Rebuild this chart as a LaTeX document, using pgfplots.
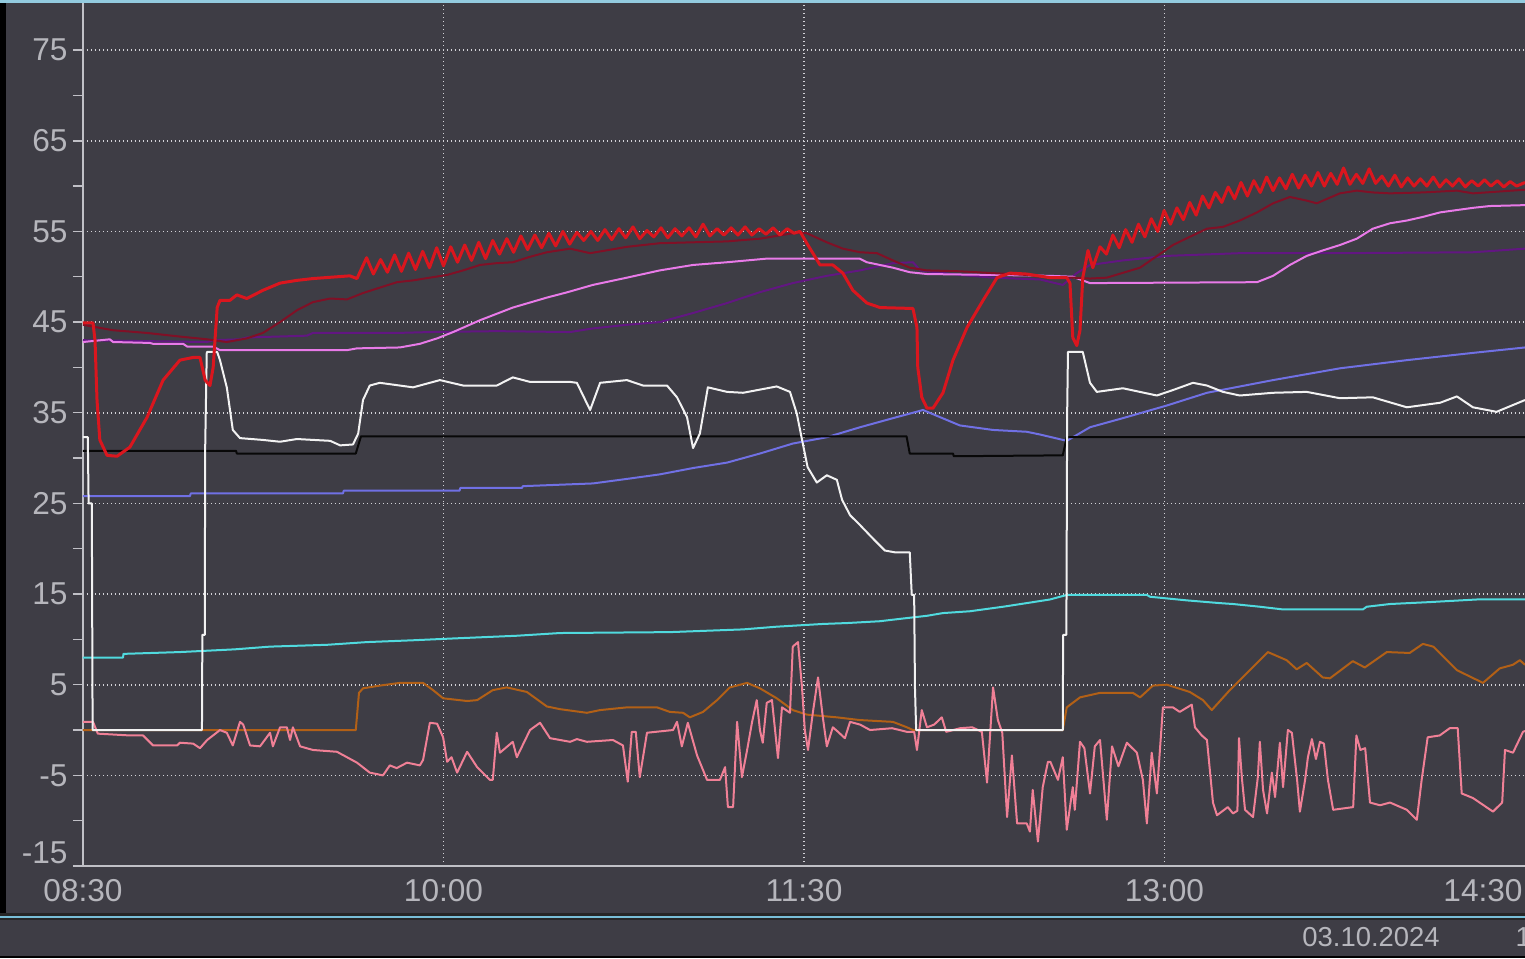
\documentclass[border=0pt]{standalone}
\usepackage{pgfplots}
\pgfplotsset{compat=1.18}
\usepackage{fontspec}
\setmainfont{Liberation Sans}

\definecolor{bg}{RGB}{62,61,69}
\definecolor{txt}{RGB}{182,182,188}
\definecolor{axl}{RGB}{192,192,198}
\definecolor{gridc}{RGB}{210,210,215}
\definecolor{edge}{RGB}{120,190,215}
\definecolor{cRed}{RGB}{218,22,30}
\definecolor{cDark}{RGB}{128,16,38}
\definecolor{cViolet}{RGB}{232,122,232}
\definecolor{cPurple}{RGB}{98,22,130}
\definecolor{cWhite}{RGB}{242,242,242}
\definecolor{cBlack}{RGB}{8,8,8}
\definecolor{cBlue}{RGB}{112,112,228}
\definecolor{cCyan}{RGB}{80,218,222}
\definecolor{cOrange}{RGB}{178,96,22}
\definecolor{cPink}{RGB}{240,128,150}

\begin{document}
\begin{tikzpicture}
\path[use as bounding box] (0,0) rectangle (152.5mm,95.8mm);
\clip (0,0) rectangle (152.5mm,95.8mm);
\fill[bg] (0,0) rectangle (152.5mm,95.8mm);

\begin{axis}[
  at={(8.3mm,9.2mm)}, anchor=south west, scale only axis,
  width=144.2mm, height=86.3mm,
  xmin=0, xmax=360, ymin=-15, ymax=80.2,
  axis x line*=bottom, axis y line*=left,
  axis line style={-, draw=axl, line width=0.2mm},
  xtick={0,90,180,270}, xticklabels={08:30,10:00,11:30,13:00},
  xticklabel style={yshift=0.9mm},
  extra x ticks={360}, extra x tick labels={14:30},
  extra x tick style={grid=none, xticklabel style={anchor=north east, xshift=1.0mm}},
  ytick={-5,5,...,75}, minor ytick={-10,0,...,70},
  yticklabel style={xshift=0.7mm},
  extra y ticks={-15}, extra y tick style={grid=none, yticklabel style={yshift=1.3mm}},
  grid=major,
  major grid style={draw=gridc, line width=0.17mm, dash pattern=on 0.14mm off 0.26mm},
  tick align=outside, major tick length=1mm, minor tick length=1mm,
  xtick style={draw=none},
  ytick style={draw=axl, line width=0.15mm},
  tick label style={font=\fontsize{9}{10}\selectfont, text=txt},
  /pgf/number format/assume math mode=true,
  no markers,
  every axis plot/.append style={line join=round, line width=0.2mm},
]

% cyan
\addplot[cCyan] coordinates {
(0,8.0) (10,8.0) (10.1,8.4) (24.2,8.6) (37.9,8.9) (46.7,9.2) (60.9,9.4) (70.9,9.7)
(82.4,9.9) (92.4,10.1) (108.3,10.4) (119.1,10.7) (146.5,10.8) (164.8,11.1) (173.2,11.4)
(184.7,11.7) (190.7,11.8) (198.9,12.0) (204.7,12.3) (210.7,12.6) (214.7,12.9) (221.4,13.1)
(229.7,13.6) (235.6,14.0) (241.4,14.4) (245.6,14.9) (265.6,14.9) (266.4,14.7) (275.6,14.3)
(283.8,14.0) (287.1,13.9) (293.8,13.6) (299.6,13.3) (319.5,13.3) (320.5,13.6) (326.3,13.9)
(335.7,14.1) (348,14.4) (360,14.4)};

% orange
\addplot[cOrange] coordinates {
(0,0) (68.1,0) (68.9,4.1) (69.9,4.6) (74.1,4.9) (79.1,5.2) (84.9,5.2) (87.4,4.4) (89.9,3.5)
(95.9,3.2) (98.4,3.3) (102.3,4.4) (105.8,4.7) (110.8,4.2) (115.8,2.6) (119.1,2.3) (125.8,1.9)
(129.1,2.2) (135.8,2.5) (143.3,2.5) (146.5,2.0) (149.8,1.9) (151.5,1.4) (154.8,2.0) (158.3,3.3)
(161.5,4.7) (165.8,5.2) (169,4.6) (173.2,3.5) (177.2,2.2) (180.7,1.7) (188.2,1.4) (193.9,1.1)
(202.2,0.9) (205.7,0.3) (207.2,0) (244.6,0) (245.6,2.5) (248.9,3.6) (253.9,4.1) (262.1,4.1)
(263.9,3.6) (267.1,4.9) (270.6,5.0) (276.3,4.2) (279.6,3.3) (281.8,2.2) (286.3,4.4) (290.6,6.3)
(295.8,8.6) (300.5,7.7) (303,6.7) (305.5,7.4) (309.5,5.8) (311.3,5.7) (317,7.6) (320,6.9)
(325.5,8.6) (331.2,8.5) (334.5,9.5) (337.1,9.2) (343,6.6) (349.5,5.2) (353.7,6.8) (357,7.2)
(358.7,7.7) (360,7.2)};

% pink
\addplot[cPink] coordinates {
(0,0.9) (2.5,0.9) (3.7,-0.4) (11.7,-0.6) (15,-0.6) (17.5,-1.7) (23.5,-1.7) (24.2,-1.4)
(27.5,-1.5) (29.2,-2.0) (31,-1.1) (34.2,0) (35.9,-0.3) (37.4,-1.7) (39.2,0.9) (40,0.6)
(41.7,-1.7) (44.2,-1.8) (46.7,-0.3) (47.4,-1.8) (49.2,0.3) (50.9,0.3) (51.7,-1.1) (52.4,0.3)
(54.2,-1.8) (57.4,-2.2) (63.4,-2.4) (68.4,-3.6) (71.6,-4.7) (74.9,-5.0) (76.6,-3.9) (78.3,-4.2)
(80.9,-3.6) (84.1,-3.9) (84.9,-3.3) (86.6,0.8) (88.4,0.7) (89.9,-0.8) (90.9,-3.5) (92,-3.0)
(93.4,-4.7) (95.9,-2.4) (98.4,-4.1) (101.6,-5.5) (102.3,-5.5) (103.3,-0.3) (104.1,-2.5)
(107.3,-1.3) (108.3,-3.0) (111.6,0) (114.1,0.8) (116.6,-0.9) (121.6,-1.3)
(123.3,-1.0) (125.8,-1.3) (132.3,-1.1) (134.8,-1.7) (136,-5.7) (137,-0.2) (138,-0.2) (139,-5.2)
(140.8,-0.3) (147.3,0) (148.3,0.9) (149.5,-1.8) (151,0.8) (153.3,-2.8) (155.8,-5.5) (159,-5.5)
(160.3,-4.1) (161,-8.5) (162.3,-8.5) (163.3,0.9) (164.5,-5.2) (165.8,-2.2) (167,0.8) (168.2,3.3)
(169,0) (169.7,-1.4) (170.7,3.0) (172,3.3) (173.5,-3.1) (174.5,2.5) (176.5,1.9) (177.2,9.2)
(178.5,9.7) (179.5,4.7) (180.2,0) (181,-2.2) (182.2,1.9) (183.5,5.8) (184.7,1.4) (185.7,-1.8)
(187.2,0.3) (188.5,-0.2) (190.2,-0.9) (191.5,0.9) (194,0.6) (196.5,0) (202,0.2) (205.7,-0.2)
(207.5,-0.2) (208.2,-2.2) (209.4,2.2) (210.7,0.3) (212.5,0.6) (214.4,1.4) (215.5,-0.2) (219,0.2)
(222,0.3) (224.4,-0.2) (225.7,-5.8) (227.2,4.7) (228.4,1.1) (229.5,-0.3) (230.7,-9.6)
(231.9,-2.8) (233.2,-10.3) (235.6,-10.3) (236.4,-11.2) (237.1,-6.6) (238.4,-12.3) (239.6,-6.3)
(240.9,-3.5) (241.5,-3.5) (243.4,-5.5) (244.6,-3.0) (245.6,-11.0) (247.1,-6.3) (247.6,-8.8)
(248.9,-1.3) (250,-2.0) (251.4,-7.0) (252.6,-1.8) (253.9,-1.1) (255.6,-9.9) (256.9,-1.8)
(258.5,-4.0) (260.6,-1.4) (263.1,-2.5) (264.6,-5.5) (265.6,-10.3) (266.8,-2.5) (268.1,-7.0)
(269.6,2.5) (272.1,2.5) (273.8,2.0) (276.8,2.8) (277.6,0.3) (279.3,-0.6) (280.6,-1.1)
(282.1,-8.0) (283.1,-9.4) (285.8,-8.5) (287.1,-9.2) (288.2,-8.9) (288.6,-0.9) (289.3,-5.2)
(290.1,-8.8) (292.1,-9.6) (293.3,-5.2) (293.8,-1.3) (294.6,-6.6) (295.6,-9.2) (296.8,-4.7)
(297.6,-7.4) (298.8,-1.4) (299.6,-6.3) (300.8,0) (301.8,-0.3) (303.1,-5.5) (303.8,-9.0)
(305.1,-5.5) (305.8,-3.0) (306.8,-1.0) (307.8,-3.2) (308.8,-1.3) (309.8,-1.5) (310.8,-5.5)
(312.1,-8.8) (317.1,-8.5) (317.9,-0.6) (318.9,-2.2) (320.1,-2.0) (321.3,-8.0) (323.8,-8.3)
(326.3,-8.0) (330.5,-8.8) (333,-9.9) (334.2,-5.5) (335.7,-0.8) (338.7,-0.6)
(341.2,0.2) (343.2,0.2) (344.2,-7.0) (347,-7.5) (352,-9.0) (354.3,-8.0) (355,-2.2) (357,-2.5)
(359.5,-0.2) (360,-0.1)};

% blue
\addplot[cBlue] coordinates {
(0,25.8) (26.7,25.8) (26.9,26.1) (64.9,26.1) (65.1,26.4) (94,26.4) (94.2,26.7) (109.6,26.7)
(109.8,26.9) (127.3,27.2) (135.8,27.7) (144,28.2) (152.3,28.9) (160.8,29.5) (169,30.5)
(177.2,31.6) (185.7,32.3) (194,33.4) (202.2,34.4) (209.7,35.3) (218.9,33.6) (227.2,33.1)
(235.6,32.9) (238.9,32.6) (245.6,31.9) (251.4,33.4) (259.6,34.4) (270.6,35.8) (280.6,37.2)
(297.1,38.6) (313.8,39.9) (330.5,40.8) (347,41.6) (360,42.2)};

% black
\addplot[cBlack] coordinates {
(0,30.8) (38.2,30.8) (38.4,30.5) (68.1,30.5) (69.4,32.4) (205.6,32.4) (206.4,30.5) (217.2,30.5)
(217.4,30.2) (244.6,30.3) (245.6,32.3) (360,32.3)};

% white
\addplot[cWhite] coordinates {
(0,32.3) (1.2,32.3) (1.4,25.0) (2.2,25.0) (2.4,0) (29.7,0) (29.8,10.5) (30.4,10.5) (30.5,31.0)
(30.9,41.7) (33.5,41.7) (34.2,40.8) (35.9,37.8) (37.4,33.1) (39.2,32.2) (44.9,32.0) (49.2,31.8)
(53.4,32.1) (61.7,31.9) (64.2,31.4) (67.4,31.5) (68.7,32.7) (69.9,36.4) (71.6,38.0) (74.1,38.3)
(82.4,37.8) (89.1,38.6) (94.9,38.0) (103.3,38.0) (107.3,38.9) (111.6,38.4) (121.6,38.4)
(123.3,38.3) (126.6,35.3) (129.1,38.3) (135.8,38.6) (139.8,38.0) (145.8,38.0) (148.3,36.7)
(150.8,34.5) (152.3,31.1) (154,32.7) (156,37.8) (160.8,37.3) (164.8,37.2) (173.2,37.9)
(176.5,37.3) (178.2,34.9) (179.7,31.6) (180.9,29.0) (183.2,27.3) (185.7,28.1) (188.2,27.6)
(189.5,25.4) (191.5,23.7) (194,22.6) (197.7,20.9) (200.2,19.8) (202.7,19.6) (206.4,19.6)
(206.9,14.9) (207.5,14.9) (207.7,4.7) (208,0) (244.6,0) (244.7,10.5) (245.5,10.5) (245.7,35)
(245.9,41.7) (249.6,41.7) (251.4,38.3) (253.1,37.3) (259.6,37.7) (268.1,36.9) (272.1,37.5)
(277.1,38.3) (280.6,38.0) (284.6,37.3) (288.8,36.9) (297.1,37.2) (305.5,37.3) (313.8,36.6)
(322,36.7) (330.5,35.6) (338.8,36.1) (343,36.8) (347,35.6) (352.9,35.1) (360,36.4)};

% purple
\addplot[cPurple] coordinates {
(0,43.0) (31,42.8) (32.5,43.0) (39.2,43.1) (40.9,43.3) (55.9,43.5) (57.4,43.8) (78.4,43.8)
(86.6,43.9) (103.3,44.0) (121.6,43.9) (127.3,44.3) (135.8,44.7) (144,45.0) (152.3,46.0)
(160.8,47.1) (169,48.3) (177.2,49.3) (185.7,50.1) (194,50.7) (202.2,51.5) (207.2,51.6)
(209,50.7) (218.9,50.2) (227.2,49.9) (238.9,49.7) (244.6,49.1) (248.1,50.4) (251.4,51.3)
(259.6,51.8) (270.6,52.3) (288.8,52.6) (313.8,52.6) (347,52.7) (360,53.1)};

% violet
\addplot[cViolet] coordinates {
(0,42.8) (6.7,43.1) (7.5,42.8) (16.7,42.7) (17.5,42.6) (25,42.6) (26,42.3) (32.5,42.3)
(34.2,41.9) (65.9,41.9) (68.4,42.1) (79.1,42.2) (84.1,42.6) (88.4,43.2) (92.4,43.9) (99.1,45.2)
(107.3,46.6) (115.8,47.7) (121,48.3) (127.3,49.1) (135.8,49.9) (144,50.7) (152.3,51.3)
(160.8,51.6) (170.7,52.0) (193.9,52.0) (195.7,51.6) (202.2,51.0) (206.4,50.5) (210.7,50.3)
(227.2,50.2) (241.4,50.1) (247.1,50.0) (251.4,49.3) (293.1,49.4) (297.1,50.1) (301.3,51.3)
(305.5,52.3) (309.5,52.9) (313.8,53.5) (318,54.2) (322,55.3) (326.3,55.9) (330.5,56.2)
(334.5,56.6) (338.8,57.1) (347,57.6) (351.2,57.8) (360,57.9)};

% dark red
\addplot[cDark] coordinates {
(0,44.7) (7.5,44.1) (16,43.8) (24.2,43.4) (31,43.1) (35.9,42.8) (40.9,43.2) (44.9,43.8)
(49.2,45.0) (53.4,46.3) (57.4,47.2) (61.7,47.6) (65.9,47.5) (69.9,48.2) (74.1,48.8) (78.4,49.4)
(82.4,49.6) (86.6,49.9) (90.9,50.2) (94.9,50.7) (99.1,51.3) (103.3,51.5) (107.3,51.6)
(111.6,52.2) (115.8,52.7) (121.6,53.1) (126.6,52.6) (135.8,53.3) (144,53.7) (152.3,53.8)
(160.8,53.9) (169,54.2) (177.2,54.8) (180.7,54.8) (185.7,53.8) (189.7,53.1) (194,52.7)
(198.2,52.6) (202.2,51.8) (206.4,51.0) (210.7,50.7) (218.9,50.6) (227.2,50.4) (235.6,50.2)
(241.4,49.9) (247.1,49.9) (251.4,49.8) (255.6,49.9) (263.9,51.0) (272.1,53.5) (276.3,54.4)
(280.6,55.3) (284.6,55.5) (288.8,56.2) (293.1,57.1) (297.1,58.1) (301.3,58.8) (305.5,58.4)
(308,58.1) (313.8,59.2) (318,59.5) (322,59.3) (326.3,59.2) (334.5,59.3) (343,59.5) (347,59.2)
(360,59.6)};

% red
\addplot[cRed, line width=0.3mm] coordinates {
(0,44.9) (2.5,44.9) (3,43.0) (3.5,36.4) (4.2,32.0) (6,30.3) (8.5,30.2) (11.7,31.2) (16,34.5)
(20,38.6) (24.2,40.8) (27.5,41.1) (29.2,41.1) (30.5,38.6) (31.7,38.0) (32.5,40.0) (33.5,46.6)
(34.2,47.4) (36.7,47.4) (38.4,48.0) (40.9,47.6) (44.9,48.5) (49.2,49.3) (53.4,49.6) (57.4,49.8)
(66.6,50.1) (68.4,49.8)
(70.8,52.1) (72.5,50.3) (74.3,51.9) (76,50.5) (77.8,52.4) (79.5,50.6) (81.3,52.6) (83,50.8)
(84.8,52.8) (86.5,51.0) (88.3,53.2) (90,51.2) (91.8,53.3) (93.5,51.6) (95.3,53.5) (97,51.8)
(98.8,53.8) (100.5,52.0) (102.3,54.0) (104,52.5) (105.8,54.2) (107.5,52.7) (109.3,54.5)
(111,53.0) (112.8,54.6) (114.5,53.2) (116.3,54.8) (118,53.4) (119.8,55.0) (121.5,53.6)
(123.3,54.9) (125,54.0) (126.8,55.0) (128.5,54.0) (130.3,55.2) (132,54.1) (133.8,55.3)
(135.5,54.3) (137.3,55.5) (139,54.2) (140.8,55.1) (142.5,54.4) (144.3,55.4) (146,54.3)
(147.8,55.3) (149.5,54.5) (151.3,55.4) (153,54.4) (154.8,55.8) (156.5,54.5) (158.3,55.3)
(160,54.6) (161.8,55.4) (163.5,54.6) (165.3,55.5) (167,54.6) (168.8,55.3) (170.5,54.7)
(172.3,55.4) (174,54.6) (175.8,55.3) (177.5,54.8) (179,55.0)
(180.7,53.7) (184,51.3) (187.2,51.3) (189.7,50.4) (192.2,48.5) (195.7,47.1) (199,46.6)
(207.2,46.5) (208.2,44.4) (208.4,40.0) (209.4,36.7) (210.7,35.5) (212.2,35.5) (214.7,37.2)
(217.2,40.8) (220.7,44.4) (224.7,47.4) (228.2,49.9) (231.4,50.4) (235.6,50.3) (241.4,49.9)
(245.6,49.9) (246.4,49.3) (247.1,43.3) (248.1,42.4) (248.9,44.1) (249.6,49.9) (250.9,52.9)
(252.1,51.0) (253.9,53.3)
(255.5,52.5) (257.1,54.6) (258.7,53.2) (260.3,55.2) (261.9,53.8) (263.5,55.8) (265.1,54.4)
(266.7,56.4) (268.3,55.0) (269.9,57.3) (271.5,55.8) (273.1,57.6) (274.7,56.3) (276.3,58.2)
(277.9,56.8) (279.5,58.9) (281.1,57.6) (282.7,59.3) (284.3,58.2) (285.9,59.9) (287.5,58.6)
(289.1,60.4) (290.7,58.9) (292.3,60.6) (293.9,59.3) (295.5,61.0) (297.1,59.5) (298.7,60.9)
(300.3,59.7) (301.9,61.3) (303.5,59.8) (305.1,61.2) (306.7,60.0) (308.3,61.5) (309.9,60.0)
(311.5,61.4) (313.1,60.2) (314.7,62.0) (316.3,60.2) (317.9,61.3) (319.5,60.3) (321.1,61.9)
(322.7,60.3) (324.3,61.1) (325.9,60.0) (327.5,61.2) (329.1,59.9) (330.7,60.9) (332.3,60.0)
(333.9,60.8) (335.5,60.0) (337.1,61.0) (338.7,59.9) (340.3,60.7) (341.9,60.0) (343.5,60.8)
(345.1,59.9) (346.7,60.6) (348.3,60.0) (349.9,60.7) (351.5,60.0) (353.1,60.6) (354.7,59.9)
(356.3,60.5) (357.9,60.0) (360,60.4)};

\end{axis}

% frame pieces
\fill[black] (0,4.5mm) rectangle (0.55mm,95.5mm);
\fill[black!85] (0,3.8mm) rectangle (152.5mm,4.5mm);
\fill[edge] (0,4.0mm) rectangle (152.5mm,4.25mm);
\fill[edge!80!white] (0,95.5mm) rectangle (152.5mm,95.8mm);
\fill[black] (0,0) rectangle (152.5mm,0.25mm);
\node[text=txt, font=\fontsize{7.8}{9}\selectfont, inner sep=0pt] at (137.1mm,2.1mm) {03.10.2024};
\node[text=txt, font=\fontsize{7.8}{9}\selectfont, inner sep=0pt, anchor=west] at (151.5mm,2.1mm) {14:30:00};
\end{tikzpicture}
\end{document}
